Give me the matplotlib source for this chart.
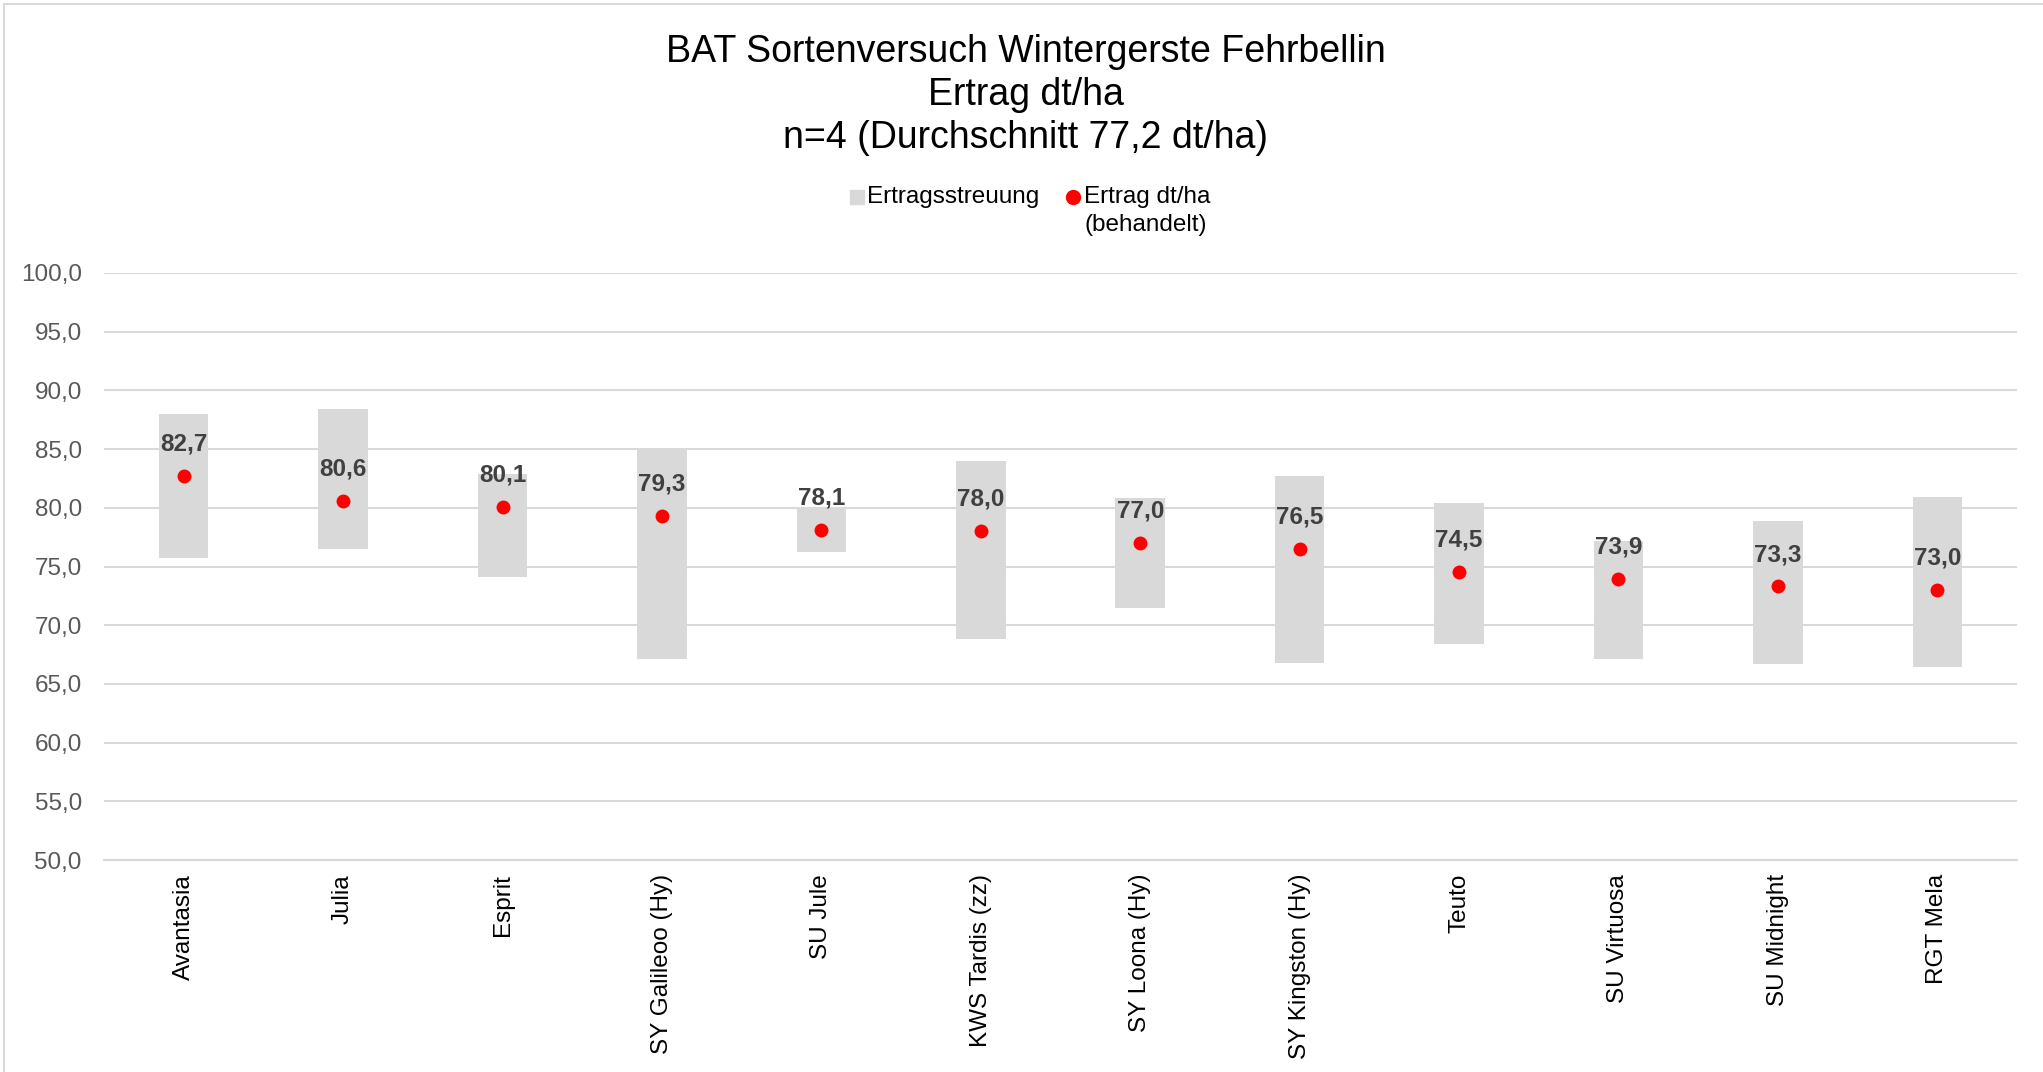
import matplotlib
matplotlib.use("Agg")
from matplotlib import pyplot as plt
from matplotlib.lines import Line2D

# data
sorten = ["Avantasia", "Julia", "Esprit", "SY Galileoo (Hy)", "SU Jule", "KWS Tardis (zz)",
          "SY Loona (Hy)", "SY Kingston (Hy)", "Teuto", "SU Virtuosa", "SU Midnight", "RGT Mela"]
ertrag = [82.7, 80.6, 80.1, 79.3, 78.1, 78.0, 77.0, 76.5, 74.5, 73.9, 73.3, 73.0]
streuung_min = [75.7, 76.5, 74.1, 67.1, 76.2, 68.8, 71.5, 66.8, 68.4, 67.1, 66.7, 66.4]
streuung_max = [88.0, 88.4, 82.9, 84.9, 80.0, 84.0, 80.8, 82.7, 80.4, 77.2, 78.9, 80.9]
yticks = [50, 55, 60, 65, 70, 75, 80, 85, 90, 95, 100]

plt.rcParams['font.family'] = ['Liberation Sans', 'DejaVu Sans']

W, H = 2043, 1072
fig = plt.figure(figsize=(W / 100, H / 100), dpi=100)
ax = fig.add_axes([104 / W, 1 - 860 / H, (2017 - 104) / W, (860 - 273) / H])

x = list(range(len(sorten)))
hoehe = [hi - lo for lo, hi in zip(streuung_min, streuung_max)]
ax.bar(x, hoehe, bottom=streuung_min, width=0.31, color="#d9d9d9", zorder=2)
ax.plot(x, ertrag, "o", color="#ff0000", ms=9, zorder=3)

for xi, v in zip(x, ertrag):
    ax.annotate(("%.1f" % v).replace(".", ","), (xi, v), xytext=(0, 23), textcoords="offset points",
                ha="center", va="center", fontsize=17.5, fontweight="bold", color="#404040", zorder=4)

ax.set_xlim(-0.5, len(sorten) - 0.5)
ax.set_ylim(50, 100)
ax.set_yticks(yticks)
ax.set_yticklabels(["%d,0" % t for t in yticks], fontsize=17.5, color="#595959")
ax.set_xticks(x)
ax.set_xticklabels(sorten, rotation=90, fontsize=17.5, color="#000000")
ax.tick_params(axis="both", length=0)
ax.tick_params(axis="x", pad=10)
ax.tick_params(axis="y", pad=16)
ax.grid(axis="y", color="#d9d9d9", linewidth=1.5, zorder=0)
for s in ["top", "right", "left"]:
    ax.spines[s].set_visible(False)
ax.spines["bottom"].set_color("#d9d9d9")
ax.spines["bottom"].set_linewidth(1.5)

fig.text(0.502, 1 - 52 / H, "BAT Sortenversuch Wintergerste Fehrbellin", ha="center", va="center", fontsize=27)
fig.text(0.502, 1 - 95 / H, "Ertrag dt/ha", ha="center", va="center", fontsize=27)
fig.text(0.502, 1 - 138 / H, "n=4 (Durchschnitt 77,2 dt/ha)", ha="center", va="center", fontsize=27)

# legend, laid out like the original (marker next to the first text line)
fig.add_artist(Line2D([857 / W], [1 - 197 / H], marker="s", color="#d9d9d9", linestyle="none", ms=10))
fig.text(867 / W, 1 - 197 / H, "Ertragsstreuung", ha="left", va="center", fontsize=17.5)
fig.add_artist(Line2D([1073 / W], [1 - 197 / H], marker="o", color="#ff0000", linestyle="none", ms=10))
fig.text(1084 / W, 1 - 197 / H, "Ertrag dt/ha", ha="left", va="center", fontsize=17.5)
fig.text(1084 / W, 1 - 225 / H, "(behandelt)", ha="left", va="center", fontsize=17.5)

# light frame of the chart area
fig.add_artist(Line2D([4 / W, 4 / W], [0, 1 - 4 / H], color="#d9d9d9", linewidth=1.5))
fig.add_artist(Line2D([4 / W, 1], [1 - 4 / H, 1 - 4 / H], color="#d9d9d9", linewidth=1.5))

fig.savefig("out.png", dpi=100)
